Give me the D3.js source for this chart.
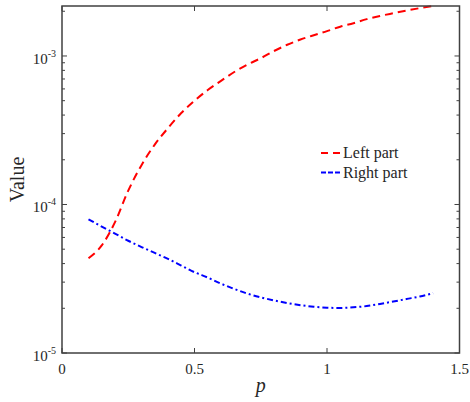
<!DOCTYPE html>
<html>
<head>
<meta charset="utf-8">
<script src="https://cdn.jsdelivr.net/npm/d3@7"></script>
<style>
  body { margin: 0; background: #fff; }
  svg text { font-family: "Liberation Serif", "Times New Roman", serif; fill: #262626; }
</style>
</head>
<body>
<svg id="chart" width="470" height="402"></svg>
<script>
// sample points of p
const pValues = [0.10, 0.15, 0.20, 0.25, 0.30, 0.35, 0.40, 0.45, 0.50, 0.55, 0.60, 0.65, 0.70,
                 0.75, 0.80, 0.85, 0.90, 0.95, 1.00, 1.05, 1.10, 1.15, 1.20, 1.25, 1.30, 1.35, 1.40];

// "Left part" (red dashed)
const leftPart = [4.35e-5, 5.3e-5, 7.6e-5, 1.24e-4, 1.84e-4, 2.53e-4, 3.27e-4, 4.13e-4, 5.0e-4,
                  5.9e-4, 6.8e-4, 7.8e-4, 8.75e-4, 9.66e-4, 1.08e-3, 1.19e-3, 1.29e-3, 1.38e-3,
                  1.47e-3, 1.575e-3, 1.66e-3, 1.77e-3, 1.86e-3, 1.94e-3, 2.02e-3, 2.10e-3, 2.17e-3];

// "Right part" (blue dash-dot)
const rightPart = [7.95e-5, 7.1e-5, 6.37e-5, 5.7e-5, 5.17e-5, 4.72e-5, 4.3e-5, 3.88e-5, 3.5e-5,
                   3.22e-5, 2.93e-5, 2.7e-5, 2.51e-5, 2.37e-5, 2.26e-5, 2.17e-5, 2.1e-5, 2.05e-5,
                   2.02e-5, 2.01e-5, 2.03e-5, 2.07e-5, 2.14e-5, 2.22e-5, 2.31e-5, 2.40e-5, 2.53e-5];

const xTicks = [0, 0.5, 1, 1.5];
const xTickLabels = ["0", "0.5", "1", "1.5"];
const yExponents = [-5, -4, -3];

const svg = d3.select("#chart");
const plotLeft = 62, plotRight = 459.5, plotTop = 6, plotBottom = 353;
const axisColor = "#404040";

const x = d3.scaleLinear().domain([0, 1.5]).range([plotLeft, plotRight]);
const y = d3.scaleLog().domain([1e-5, 2.17e-3]).range([plotBottom, plotTop]);

// curves
const line = d3.line()
    .x(d => x(d[0]))
    .y(d => y(d[1]))
    .curve(d3.curveMonotoneX);

svg.append("path")
    .datum(pValues.map((p, i) => [p, rightPart[i]]))
    .attr("fill", "none")
    .attr("stroke", "#0000ff")
    .attr("stroke-width", 2)
    .attr("stroke-dasharray", "6,3,2,3")
    .attr("d", line);

svg.append("path")
    .datum(pValues.map((p, i) => [p, leftPart[i]]))
    .attr("fill", "none")
    .attr("stroke", "#ff0000")
    .attr("stroke-width", 2)
    .attr("stroke-dasharray", "8,5")
    .attr("d", line);

// box
svg.append("rect")
    .attr("x", plotLeft).attr("y", plotTop)
    .attr("width", plotRight - plotLeft).attr("height", plotBottom - plotTop)
    .attr("fill", "none")
    .attr("stroke", axisColor)
    .attr("stroke-width", 1.5);

// x ticks (bottom and top, pointing inward)
xTicks.forEach((t, i) => {
    svg.append("line").attr("x1", x(t)).attr("x2", x(t))
        .attr("y1", plotBottom).attr("y2", plotBottom - 5)
        .attr("stroke", axisColor).attr("stroke-width", 1);
    svg.append("line").attr("x1", x(t)).attr("x2", x(t))
        .attr("y1", plotTop).attr("y2", plotTop + 5)
        .attr("stroke", axisColor).attr("stroke-width", 1);
    svg.append("text")
        .attr("x", x(t)).attr("y", 374)
        .attr("text-anchor", "middle")
        .attr("font-size", 15)
        .text(xTickLabels[i]);
});

// y ticks: majors and minors on both sides
const minorTicks = [];
for (let e = -5; e <= -3; e++) {
    for (let k = 2; k <= 9; k++) {
        const v = k * Math.pow(10, e);
        if (v <= y.domain()[1]) minorTicks.push(v);
    }
}
minorTicks.forEach(v => {
    svg.append("line").attr("x1", plotLeft).attr("x2", plotLeft + 3)
        .attr("y1", y(v)).attr("y2", y(v))
        .attr("stroke", axisColor).attr("stroke-width", 1);
    svg.append("line").attr("x1", plotRight).attr("x2", plotRight - 3)
        .attr("y1", y(v)).attr("y2", y(v))
        .attr("stroke", axisColor).attr("stroke-width", 1);
});
yExponents.forEach(e => {
    const v = Math.pow(10, e);
    svg.append("line").attr("x1", plotLeft).attr("x2", plotLeft + 5)
        .attr("y1", y(v)).attr("y2", y(v))
        .attr("stroke", axisColor).attr("stroke-width", 1);
    svg.append("line").attr("x1", plotRight).attr("x2", plotRight - 5)
        .attr("y1", y(v)).attr("y2", y(v))
        .attr("stroke", axisColor).attr("stroke-width", 1);
    const lbl = svg.append("text")
        .attr("x", 56).attr("y", y(v) + 8)
        .attr("text-anchor", "end")
        .attr("font-size", 15);
    lbl.append("tspan").text("10");
    lbl.append("tspan").attr("font-size", 10).attr("dy", -7).text(String(e));
});

// axis labels
svg.append("text")
    .attr("x", (plotLeft + plotRight) / 2).attr("y", 392)
    .attr("text-anchor", "middle")
    .attr("font-size", 20)
    .attr("font-style", "italic")
    .text("p");

svg.append("text")
    .attr("transform", `translate(24, ${(plotTop + plotBottom) / 2}) rotate(-90)`)
    .attr("text-anchor", "middle")
    .attr("font-size", 20)
    .text("Value");

// legend
const legendItems = [
    { name: "Left part", color: "#ff0000", dash: "7,5" },
    { name: "Right part", color: "#0000ff", dash: "5,2" }
];
legendItems.forEach((d, i) => {
    const ly = 153 + i * 19.5;
    svg.append("line")
        .attr("x1", 321).attr("x2", 342)
        .attr("y1", ly).attr("y2", ly)
        .attr("stroke", d.color).attr("stroke-width", 2)
        .attr("stroke-dasharray", d.dash);
    svg.append("text")
        .attr("x", 343).attr("y", ly + 5)
        .attr("font-size", 16)
        .text(d.name);
});
</script>
</body>
</html>
